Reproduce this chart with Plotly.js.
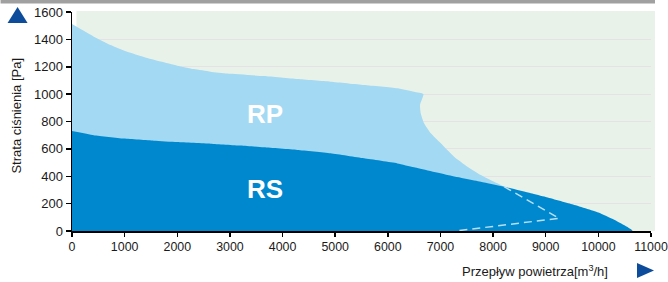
<!DOCTYPE html>
<html>
<head>
<meta charset="utf-8">
<script src="https://cdn.plot.ly/plotly-3.0.1.min.js"></script>
<style>
html,body{margin:0;padding:0;background:#fff;}
#chart{width:668px;height:282px;}
</style>
</head>
<body>
<div id="chart"></div>
<script>
// Axis ticks
const xTicks = [0,1000,2000,3000,4000,5000,6000,7000,8000,9000,10000,11000];
const yTicks = [0,200,400,600,800,1000,1200,1400,1600];

// RP envelope (upper boundary of the light-blue area)
const rpFlow     = [0, 415, 732, 1049, 1365, 1683, 2000, 2316, 2633, 2950, 3646, 4281, 4914, 5548, 6182, 6498, 6677, 6612, 6625, 6688, 6816, 7006, 7259, 7513, 7766, 8019, 8209, 9255, 7290, 0];
const rpPressure = [1512, 1420, 1359, 1310, 1272, 1238, 1208, 1183, 1164, 1150, 1132, 1110, 1091, 1067, 1043, 1018, 1001, 921, 860, 787, 714, 641, 543, 470, 409, 360, 324, 93, 0, 0];

// RS envelope (upper boundary of the dark-blue area)
const rsFlow     = [0, 415, 985, 1555, 2000, 2633, 3203, 3646, 4281, 4914, 5548, 6182, 6498, 7133, 7766, 8209, 8717, 9000, 9500, 10000, 10300, 10650, 0];
const rsPressure = [730, 700, 675, 660, 650, 638, 624, 611, 592, 568, 531, 494, 465, 409, 360, 324, 275, 248, 195, 135, 82, 0, 0];

// Hidden part of the RP boundary (dashed)
const hiddenFlow     = [8209, 9255, 7290];
const hiddenPressure = [324, 93, 0];

const labelRP = "RP";
const labelRS = "RS";
const xTitle = "Przepływ powietrza[m<sup>3</sup>/h]";
const yTitle = "Strata ciśnienia [Pa]";

const FONT = "Liberation Sans, Arial, sans-serif";

const traces = [
  {x: rpFlow, y: rpPressure, type: 'scatter', mode: 'lines', fill: 'toself',
   fillcolor: '#a3d9f2', line: {width: 0, color: '#a3d9f2', shape: 'spline', smoothing: 0.5},
   hoverinfo: 'skip', showlegend: false},
  {x: rsFlow, y: rsPressure, type: 'scatter', mode: 'lines', fill: 'toself',
   fillcolor: '#0088cf', line: {width: 0, color: '#0088cf', shape: 'spline', smoothing: 0.5},
   hoverinfo: 'skip', showlegend: false},
  {x: hiddenFlow, y: hiddenPressure, type: 'scatter', mode: 'lines',
   line: {width: 1.5, color: '#b8e0f4', dash: '8px,5px'}, hoverinfo: 'skip', showlegend: false}
];

const L = 71.5, R = 651, T = 12, B = 231;
const px = v => (v - L) / (R - L);
const py = v => (B - v) / (B - T);

const layout = {
  width: 668, height: 282,
  margin: {l: L, r: 668 - R, t: T, b: 282 - B, pad: 0},
  paper_bgcolor: '#ffffff',
  plot_bgcolor: 'rgba(0,0,0,0)',
  font: {family: FONT, size: 13, color: '#1a1a1a'},
  showlegend: false,
  xaxis: {
    range: [0, 11000], tickvals: xTicks, ticktext: xTicks.map(String),
    showgrid: false, zeroline: false, showline: true, linecolor: '#000', linewidth: 1.5,
    ticks: 'outside', ticklen: 4, tickwidth: 1.5, tickcolor: '#000',
    tickfont: {family: FONT, size: 12.4, color: '#1a1a1a'}, fixedrange: true
  },
  yaxis: {
    range: [0, 1600], tickvals: yTicks, ticktext: yTicks.map(String),
    showgrid: true, gridcolor: '#e6e1e6', gridwidth: 1, zeroline: false,
    showline: true, linecolor: '#000', linewidth: 1.5,
    ticks: 'outside', ticklen: 5, tickwidth: 1.5, tickcolor: '#000',
    tickfont: {family: FONT, size: 13, color: '#1a1a1a'}, fixedrange: true
  },
  shapes: [
    {type: 'rect', xref: 'paper', yref: 'paper', x0: px(76), x1: px(655), y0: 0, y1: py(11),
     fillcolor: '#e9f2e8', line: {width: 0}, layer: 'below'},
    {type: 'rect', xref: 'paper', yref: 'paper', x0: px(0), x1: px(655), y0: py(3.5), y1: py(-1),
     fillcolor: '#a0a0a0', line: {width: 0}, layer: 'above'},
    {type: 'path', xref: 'paper', yref: 'paper',
     path: `M ${px(7)} ${py(23)} L ${px(27)} ${py(23)} L ${px(17)} ${py(7)} Z`,
     fillcolor: '#0d4c9b', line: {width: 0}, layer: 'above'},
    {type: 'path', xref: 'paper', yref: 'paper',
     path: `M ${px(637)} ${py(263)} L ${px(637)} ${py(278)} L ${px(654)} ${py(270.5)} Z`,
     fillcolor: '#0d4c9b', line: {width: 0}, layer: 'above'}
  ],
  annotations: [
    {text: labelRP, x: 3660, y: 855, xref: 'x', yref: 'y', showarrow: false,
     xanchor: 'center', yanchor: 'middle',
     font: {family: FONT, size: 26, color: '#ffffff', weight: 'bold'}},
    {text: labelRS, x: 3660, y: 307, xref: 'x', yref: 'y', showarrow: false,
     xanchor: 'center', yanchor: 'middle',
     font: {family: FONT, size: 26, color: '#ffffff', weight: 'bold'}},
    {text: yTitle, x: px(15), y: py(116), xref: 'paper', yref: 'paper', showarrow: false,
     xanchor: 'center', yanchor: 'middle', textangle: -90,
     font: {family: FONT, size: 13, color: '#1a1a1a'}},
    {text: xTitle, x: px(535), y: py(271), xref: 'paper', yref: 'paper', showarrow: false,
     xanchor: 'center', yanchor: 'middle',
     font: {family: FONT, size: 13, color: '#1a1a1a'}}
  ]
};

Plotly.newPlot('chart', traces, layout, {staticPlot: true, displayModeBar: false});
</script>
</body>
</html>
